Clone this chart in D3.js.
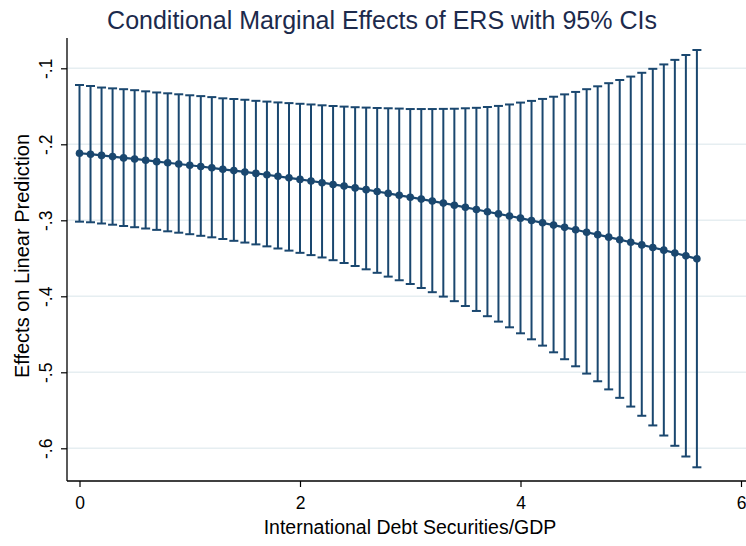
<!DOCTYPE html>
<html>
<head>
<meta charset="utf-8">
<script src="https://cdn.jsdelivr.net/npm/d3@7"></script>
<style>
  html, body { margin: 0; padding: 0; background: #ffffff; }
  svg { display: block; font-family: "Liberation Sans", Arial, sans-serif; }
</style>
</head>
<body>
<script>
// Moderator values (International Debt Securities/GDP)
const moderator = [
  0.0, 0.1, 0.2, 0.3, 0.4, 0.5, 0.6, 0.7, 0.8, 0.9,
  1.0, 1.1, 1.2, 1.3, 1.4, 1.5, 1.6, 1.7, 1.8, 1.9,
  2.0, 2.1, 2.2, 2.3, 2.4, 2.5, 2.6, 2.7, 2.8, 2.9,
  3.0, 3.1, 3.2, 3.3, 3.4, 3.5, 3.6, 3.7, 3.8, 3.9,
  4.0, 4.1, 4.2, 4.3, 4.4, 4.5, 4.6, 4.7, 4.8, 4.9,
  5.0, 5.1, 5.2, 5.3, 5.4, 5.5, 5.6
];

// Marginal effect of ERS at each moderator value
const effect = [
  -0.2118, -0.2130, -0.2146, -0.2162, -0.2179, -0.2193, -0.2209, -0.2228, -0.2243, -0.2259,
  -0.2276, -0.2292, -0.2309, -0.2329, -0.2346, -0.2364, -0.2383, -0.2401, -0.2421, -0.2441,
  -0.2462, -0.2483, -0.2505, -0.2528, -0.2550, -0.2574, -0.2597, -0.2621, -0.2646, -0.2671,
  -0.2696, -0.2721, -0.2747, -0.2774, -0.2801, -0.2829, -0.2858, -0.2887, -0.2916, -0.2943,
  -0.2972, -0.3003, -0.3033, -0.3063, -0.3093, -0.3125, -0.3157, -0.3189, -0.3222, -0.3255,
  -0.3289, -0.3324, -0.3358, -0.3393, -0.3430, -0.3468, -0.3507
];

// Lower bound of the 95% confidence interval
const ciLower = [
  -0.3018, -0.3026, -0.3042, -0.3058, -0.3075, -0.3091, -0.3108, -0.3126, -0.3145, -0.3163,
  -0.3183, -0.3204, -0.3224, -0.3246, -0.3270, -0.3293, -0.3317, -0.3343, -0.3371, -0.3399,
  -0.3428, -0.3458, -0.3489, -0.3525, -0.3562, -0.3601, -0.3645, -0.3691, -0.3741, -0.3789,
  -0.3838, -0.3891, -0.3946, -0.4004, -0.4064, -0.4128, -0.4193, -0.4262, -0.4333, -0.4408,
  -0.4487, -0.4566, -0.4649, -0.4737, -0.4828, -0.4921, -0.5017, -0.5118, -0.5225, -0.5336,
  -0.5451, -0.5572, -0.5699, -0.5832, -0.5967, -0.6108, -0.6250
];

// Upper bound of the 95% confidence interval
const ciUpper = [
  -0.1220, -0.1233, -0.1253, -0.1264, -0.1275, -0.1288, -0.1303, -0.1318, -0.1329, -0.1342,
  -0.1355, -0.1366, -0.1379, -0.1395, -0.1404, -0.1414, -0.1428, -0.1438, -0.1449, -0.1458,
  -0.1467, -0.1476, -0.1487, -0.1496, -0.1504, -0.1512, -0.1517, -0.1522, -0.1526, -0.1530,
  -0.1536, -0.1536, -0.1536, -0.1534, -0.1532, -0.1526, -0.1520, -0.1509, -0.1495, -0.1476,
  -0.1451, -0.1429, -0.1403, -0.1374, -0.1343, -0.1311, -0.1275, -0.1237, -0.1196, -0.1154,
  -0.1109, -0.1059, -0.1007, -0.0949, -0.0889, -0.0825, -0.0759
];

// Axis ticks and labels
const xTicks = [0, 2, 4, 6];
const yTicks = [-0.6, -0.5, -0.4, -0.3, -0.2, -0.1];
const yTickLabels = ["-.6", "-.5", "-.4", "-.3", "-.2", "-.1"];

const titleText = "Conditional Marginal Effects of ERS with 95% CIs";
const xTitle = "International Debt Securities/GDP";
const yTitle = "Effects on Linear Prediction";

// Layout
const W = 746, H = 546;
const plotLeft = 67, plotRight = 746, plotTop = 38, plotBottom = 481;
const markColor = "#1a476f";
const fontFamily = "Liberation Sans, Arial, sans-serif";

const svg = d3.select("body").append("svg")
  .attr("width", W).attr("height", H);

svg.append("rect").attr("width", W).attr("height", H).attr("fill", "#ffffff");

const x = d3.scaleLinear().domain([0, 6]).range([79.5, 741]);
const y = d3.scaleLinear().domain([-0.6, -0.1]).range([448.3, 68.3]);

// Horizontal grid lines
svg.append("g").selectAll("line")
  .data(yTicks)
  .join("line")
  .attr("x1", plotLeft).attr("x2", plotRight)
  .attr("y1", d => y(d)).attr("y2", d => y(d))
  .attr("stroke", "#e6eef1")
  .attr("stroke-width", 1.6);

// Y axis
const yAxis = svg.append("g")
  .attr("transform", `translate(${plotLeft},0)`)
  .call(d3.axisLeft(y)
    .tickValues(yTicks)
    .tickFormat((d, i) => yTickLabels[i])
    .tickSize(6)
    .tickPadding(0));
yAxis.select(".domain").remove();
yAxis.selectAll(".tick line").attr("stroke", "#000").attr("stroke-width", 1.2);
yAxis.selectAll(".tick text")
  .attr("x", null).attr("dy", null)
  .attr("transform", "translate(-15,0) rotate(-90)")
  .attr("text-anchor", "middle")
  .attr("font-size", 17.5)
  .attr("font-family", fontFamily)
  .attr("fill", "#000");

// X axis
const xAxis = svg.append("g")
  .attr("transform", `translate(0,${plotBottom})`)
  .call(d3.axisBottom(x)
    .tickValues(xTicks)
    .tickFormat(d3.format("d"))
    .tickSize(6));
xAxis.select(".domain").remove();
xAxis.selectAll(".tick line").attr("stroke", "#000").attr("stroke-width", 1.2);
xAxis.selectAll(".tick text")
  .attr("y", 16)
  .attr("font-size", 17.5)
  .attr("font-family", fontFamily)
  .attr("fill", "#000");

// Axis lines
svg.append("line")
  .attr("x1", plotLeft).attr("x2", plotLeft)
  .attr("y1", plotTop).attr("y2", plotBottom)
  .attr("stroke", "#000").attr("stroke-width", 1.3);
svg.append("line")
  .attr("x1", plotLeft).attr("x2", plotRight)
  .attr("y1", plotBottom).attr("y2", plotBottom)
  .attr("stroke", "#000").attr("stroke-width", 1.3);

// Series rows
const rows = moderator.map((m, i) => ({
  m, est: effect[i], lo: ciLower[i], hi: ciUpper[i]
}));

const series = svg.append("g");

// Confidence-interval whiskers
series.selectAll("line.ci")
  .data(rows)
  .join("line")
  .attr("class", "ci")
  .attr("x1", d => x(d.m)).attr("x2", d => x(d.m))
  .attr("y1", d => y(d.lo)).attr("y2", d => y(d.hi))
  .attr("stroke", markColor).attr("stroke-width", 2);

// Caps at both ends
const capHalf = 4.5;
["lo", "hi"].forEach(k => {
  series.selectAll(`line.cap-${k}`)
    .data(rows)
    .join("line")
    .attr("class", `cap-${k}`)
    .attr("x1", d => x(d.m) - capHalf).attr("x2", d => x(d.m) + capHalf)
    .attr("y1", d => y(d[k])).attr("y2", d => y(d[k]))
    .attr("stroke", markColor).attr("stroke-width", 2);
});

// Connected estimates
series.append("path")
  .datum(rows)
  .attr("fill", "none")
  .attr("stroke", markColor)
  .attr("stroke-width", 2.2)
  .attr("d", d3.line().x(d => x(d.m)).y(d => y(d.est)));

series.selectAll("circle")
  .data(rows)
  .join("circle")
  .attr("cx", d => x(d.m)).attr("cy", d => y(d.est))
  .attr("r", 3.8)
  .attr("fill", markColor);

// Titles
svg.append("text")
  .attr("x", 382).attr("y", 29)
  .attr("text-anchor", "middle")
  .attr("font-size", 25)
  .attr("fill", "#1c2a4c")
  .text(titleText);

svg.append("text")
  .attr("x", 410).attr("y", 534)
  .attr("text-anchor", "middle")
  .attr("font-size", 19.5)
  .attr("fill", "#000")
  .text(xTitle);

svg.append("text")
  .attr("transform", "translate(29,256) rotate(-90)")
  .attr("text-anchor", "middle")
  .attr("font-size", 20)
  .attr("fill", "#000")
  .text(yTitle);
</script>
</body>
</html>
